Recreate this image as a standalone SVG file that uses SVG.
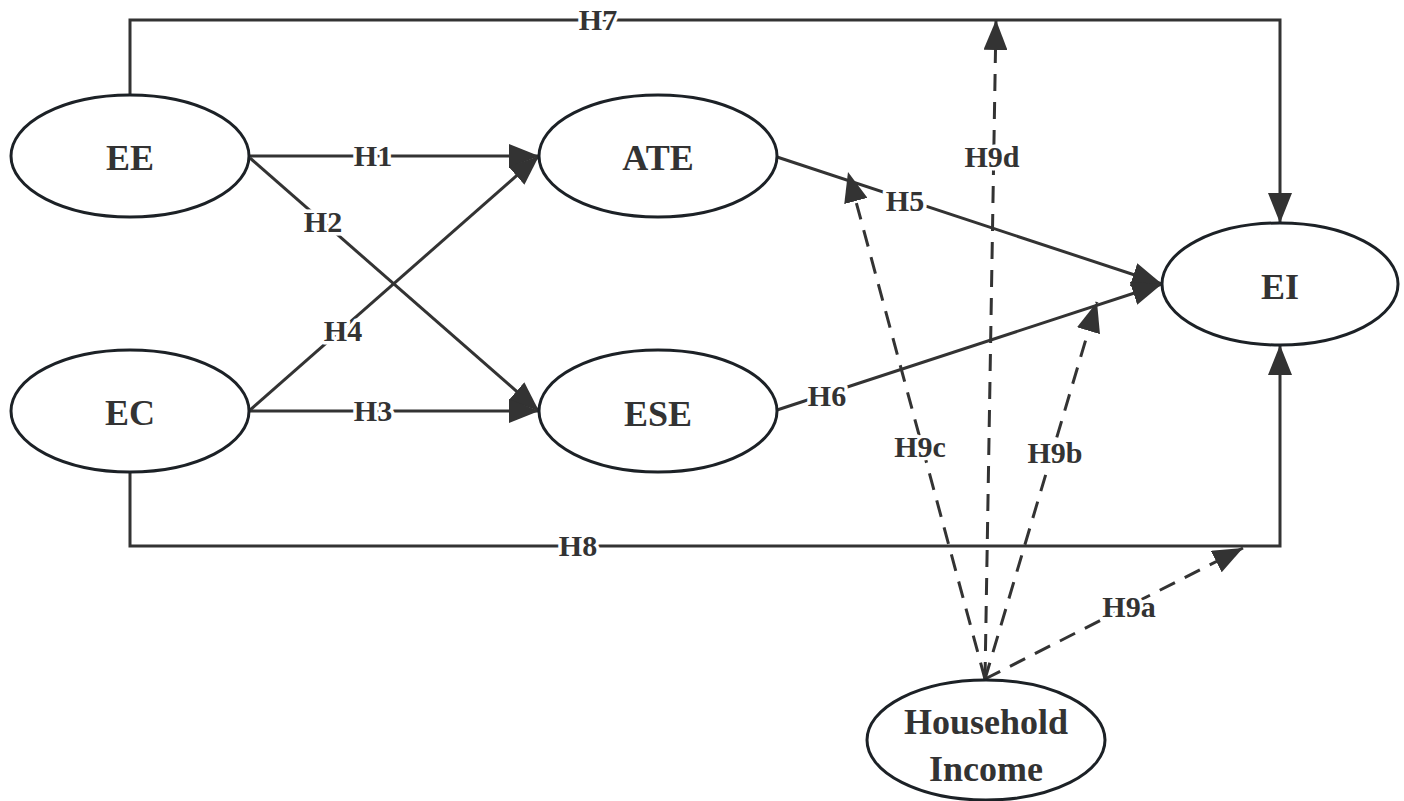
<svg xmlns="http://www.w3.org/2000/svg" width="1404" height="801" viewBox="0 0 1404 801">
<style>
.node ellipse{fill:#fff;stroke:#1c2126;stroke-width:3}
.node text{font-family:"Liberation Serif","Times New Roman",serif;font-weight:bold;font-size:36px;fill:#333;text-anchor:middle}
.edge{fill:none;stroke:#333;stroke-width:3}
.dash{stroke-dasharray:17 11}
.lbl{font-family:"Liberation Serif","Times New Roman",serif;font-weight:bold;font-size:30px;fill:#333;text-anchor:middle;stroke:#fff;stroke-width:7;paint-order:stroke;stroke-linejoin:round}
</style>
<defs>
<marker id="arr" viewBox="0 0 30 24" markerUnits="userSpaceOnUse" markerWidth="30" markerHeight="24" refX="30" refY="12" orient="auto">
<path d="M0,0 L30,12 L0,24 z" fill="#333"/>
</marker>
</defs>
<rect width="1404" height="801" fill="#fff"/>
<g id="connectors">
<path class="edge" d="M130,95 V20 H1280 V223" marker-end="url(#arr)"/>
<path class="edge" d="M130,472 V546 H1280 V345" marker-end="url(#arr)"/>
<path class="edge" d="M249,156 H539" marker-end="url(#arr)"/>
<path class="edge" d="M250,158 L539,411" marker-end="url(#arr)"/>
<path class="edge" d="M249,411 H539" marker-end="url(#arr)"/>
<path class="edge" d="M249,411 L539,156" marker-end="url(#arr)"/>
<path class="edge" d="M777,157 L1162,284" marker-end="url(#arr)"/>
<path class="edge" d="M777,410 L1162,284" marker-end="url(#arr)"/>
<path class="edge dash" d="M985,679 L1243,548" marker-end="url(#arr)"/>
<path class="edge dash" d="M985,679 L1097,302" marker-end="url(#arr)"/>
<path class="edge dash" d="M985,679 L848,172" marker-end="url(#arr)"/>
<path class="edge dash" d="M985,679 L996,20" marker-end="url(#arr)"/>
<text class="lbl" x="373" y="166">H1</text>
<text class="lbl" x="323" y="232">H2</text>
<text class="lbl" x="373" y="421">H3</text>
<text class="lbl" x="343" y="341">H4</text>
<text class="lbl" x="905" y="211">H5</text>
<text class="lbl" x="827" y="406">H6</text>
<text class="lbl" x="598" y="30">H7</text>
<text class="lbl" x="578" y="556">H8</text>
<text class="lbl" x="1129" y="617">H9a</text>
<text class="lbl" x="1055" y="463">H9b</text>
<text class="lbl" x="920" y="457">H9c</text>
<text class="lbl" x="992" y="167">H9d</text>
</g>
<g id="EE" class="node"><ellipse cx="130" cy="156" rx="119" ry="61"/><text x="130" y="170">EE</text></g>
<g id="EC" class="node"><ellipse cx="130" cy="411" rx="119" ry="61"/><text x="130" y="425">EC</text></g>
<g id="ATE" class="node"><ellipse cx="658" cy="156" rx="119" ry="61"/><text x="658" y="170">ATE</text></g>
<g id="ESE" class="node"><ellipse cx="658" cy="411" rx="119" ry="61"/><text x="658" y="426">ESE</text></g>
<g id="EI" class="node"><ellipse cx="1280" cy="284" rx="118" ry="61"/><text x="1280" y="299">EI</text></g>
<g id="HouseholdIncome" class="node"><ellipse cx="986" cy="740" rx="119" ry="60"/><text x="986" y="734">Household</text><text x="986" y="781">Income</text></g>
</svg>
